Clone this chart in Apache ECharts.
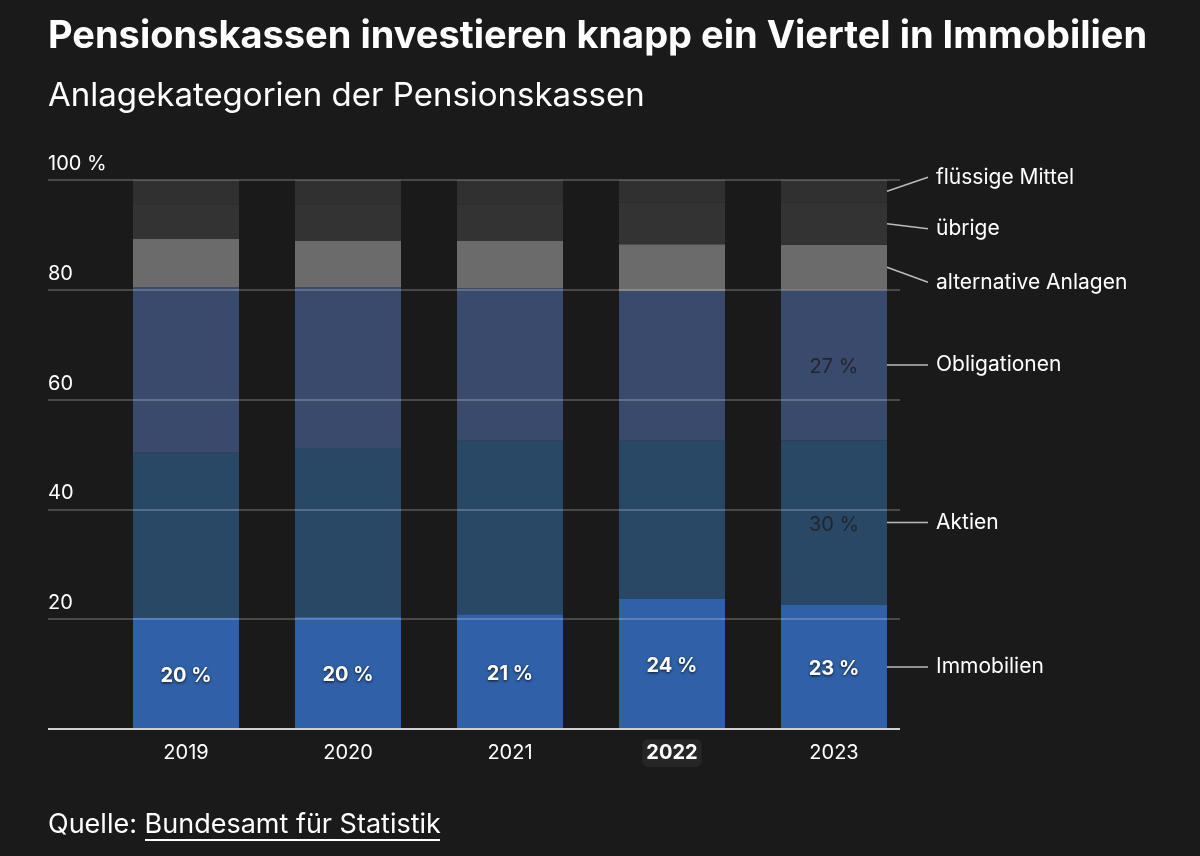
<!DOCTYPE html>
<html>
<head>
<meta charset="utf-8">
<script src="https://cdn.jsdelivr.net/npm/echarts@6/dist/echarts.min.js"></script>
<style>
  html, body { margin: 0; padding: 0; background: #1a1a1a; }
  #chart { width: 1200px; height: 856px; }
</style>
</head>
<body>
<div id="chart"></div>
<script>
// Jahre und Anteile (in %), von unten nach oben gestapelt
var years = ['2019', '2020', '2021', '2022', '2023'];
var categories = ['Immobilien', 'Aktien', 'Obligationen', 'alternative Anlagen', 'übrige', 'flüssige Mittel'];
var immobilien = [20.2, 20.4, 20.9, 23.7, 22.6];
var aktien = [30.1, 30.8, 31.6, 28.8, 30.0];
var obligationen = [30.2, 29.3, 27.8, 27.3, 27.4];
var alternative = [8.8, 8.4, 8.6, 8.5, 8.2];
var uebrige = [6.3, 6.7, 6.7, 7.6, 7.7];
var fluessige = [4.4, 4.4, 4.4, 4.1, 4.1];
var yTicks = [0, 20, 40, 60, 80, 100];

var seriesData = [immobilien, aktien, obligationen, alternative, uebrige, fluessige];
var colors = ['#3061a8', '#284866', '#3a4a6d', '#6b6b6b', '#333333', '#303030'];
// Versatz der Beschriftung rechts (px), damit sich die oberen Labels nicht überlappen
var labelShift = [0, 0, 0, 15, 5, -14];

var chart = echarts.init(document.getElementById('chart'));
var FONT = 'Inter, "Noto Sans", sans-serif';
var BAR_W = 106;

var series = categories.map(function (name, i) {
  return {
    name: name,
    type: 'bar',
    stack: 'total',
    xAxisIndex: 1,
    yAxisIndex: 1,
    barWidth: BAR_W,
    itemStyle: { color: colors[i] },
    data: seriesData[i].map(function (v, j) {
      var item = { value: v };
      if (i === 0) {
        item.label = {
          show: true, position: 'inside', offset: [0, 2], formatter: Math.round(v) + ' %',
          color: '#fff', fontWeight: 'bold', fontSize: 20, fontFamily: FONT,
          textShadowColor: 'rgba(0,0,0,0.8)', textShadowBlur: 3, textShadowOffsetY: 1
        };
      } else if ((i === 1 || i === 2) && j === years.length - 1) {
        item.label = {
          show: true, position: 'inside', offset: [0, 2], formatter: Math.round(v) + ' %',
          color: '#22262c', fontSize: 20, fontFamily: FONT
        };
      }
      return item;
    }),
    emphasis: { disabled: true }
  };
});

// Beschriftung rechts neben dem letzten Balken
var lastIdx = years.length - 1;
var legendData = categories.map(function (name, i) {
  var lower = 0;
  for (var k = 0; k < i; k++) lower += seriesData[k][lastIdx];
  return [lastIdx, lower, lower + seriesData[i][lastIdx], name, labelShift[i]];
});

series.push({
  type: 'custom',
  xAxisIndex: 1,
  yAxisIndex: 1,
  silent: true,
  z: 5,
  data: legendData,
  renderItem: function (params, api) {
    var mid = (api.value(1) + api.value(2)) / 2;
    var p = api.coord([api.value(0), mid]);
    var x0 = p[0] + BAR_W / 2;
    var y0 = p[1];
    var y1 = y0 + api.value(4);
    return {
      type: 'group',
      children: [
        { type: 'line', shape: { x1: x0, y1: y0, x2: x0 + 41, y2: y1 },
          style: { stroke: '#bbbbbb', lineWidth: 1.5 } },
        { type: 'text', x: x0 + 49, y: y1,
          style: { text: api.value(3), fill: '#ffffff', font: '21px ' + FONT,
                   textAlign: 'left', textVerticalAlign: 'middle' } }
      ]
    };
  }
});

chart.setOption({
  backgroundColor: '#1a1a1a',
  animation: false,
  title: [
    { text: 'Pensionskassen investieren knapp ein Viertel in Immobilien', left: 43, top: 13,
      textStyle: { color: '#fff', fontSize: 38, fontWeight: 'bold', fontFamily: FONT } },
    { text: 'Anlagekategorien der Pensionskassen', left: 43, top: 75,
      textStyle: { color: '#fff', fontSize: 33, fontWeight: 'normal', fontFamily: FONT } },
    { text: 'Quelle: Bundesamt für Statistik', left: 43, top: 806,
      textStyle: { color: '#fff', fontSize: 27, fontWeight: 'normal', fontFamily: FONT } }
  ],
  graphic: [
    { type: 'line', shape: { x1: 145, y1: 840, x2: 440, y2: 840 },
      style: { stroke: '#ffffff', lineWidth: 2 } }
  ],
  grid: [
    { left: 48, top: 180, width: 852, height: 549 },
    { left: 105, top: 180, width: 810, height: 549 }
  ],
  xAxis: [
    { type: 'value', gridIndex: 0, show: false, min: 0, max: 1 },
    { type: 'category', gridIndex: 1, data: years,
      axisLine: { show: false }, axisTick: { show: false },
      axisLabel: {
        margin: 10,
        formatter: function (v) { return v === '2022' ? '{b|' + v + '}' : '{a|' + v + '}'; },
        rich: {
          a: { fontSize: 20, fontFamily: FONT, color: '#fff', padding: [4, 4, 4, 4] },
          b: { fontWeight: 'bold', fontSize: 20, fontFamily: FONT, color: '#fff',
               backgroundColor: '#262626', borderRadius: 6, padding: [4, 4, 4, 4] }
        }
      } }
  ],
  yAxis: [
    { type: 'value', gridIndex: 0, min: 0, max: 100, interval: 20, z: 4,
      axisLine: { show: false }, axisTick: { show: false },
      splitLine: { show: true, lineStyle: { color: 'rgba(255,255,255,0.28)', width: 1.5 } },
      axisLabel: {
        inside: true, color: '#fff', fontSize: 20, fontFamily: FONT,
        verticalAlign: 'bottom', margin: 0, padding: [0, 0, 6, 0],
        formatter: function (v) { return v === 0 ? '' : (v === 100 ? v + ' %' : String(v)); }
      } },
    { type: 'value', gridIndex: 1, min: 0, max: 100, show: false }
  ],
  series: series.concat([{
    type: 'line', xAxisIndex: 0, yAxisIndex: 0, silent: true, z: 6, symbol: 'none',
    data: [[0, 0], [1, 0]], lineStyle: { color: '#d0d0d0', width: 2 }
  }])
});
</script>
</body>
</html>
